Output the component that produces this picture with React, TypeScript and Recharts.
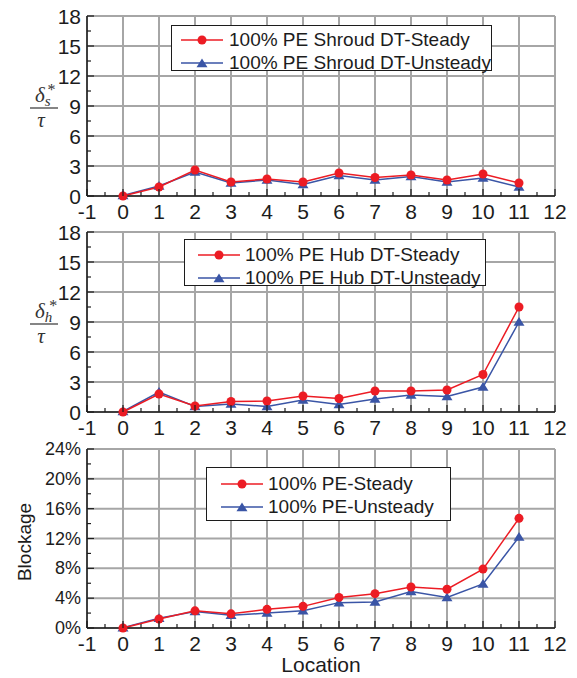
import React from 'react';
import { LineChart, Line, XAxis, YAxis, ReferenceLine, Legend } from 'recharts';

// measurement locations along the passage
const locations = [0, 1, 2, 3, 4, 5, 6, 7, 8, 9, 10, 11];

// shroud displacement thickness / tau
const shroudSteady = [0, 0.9, 2.6, 1.4, 1.7, 1.4, 2.3, 1.85, 2.1, 1.6, 2.2, 1.3];
const shroudUnsteady = [0.05, 1.0, 2.4, 1.3, 1.6, 1.15, 2.05, 1.6, 1.95, 1.4, 1.8, 0.9];

// hub displacement thickness / tau
const hubSteady = [0, 1.8, 0.6, 1.05, 1.1, 1.6, 1.35, 2.1, 2.1, 2.2, 3.75, 10.5];
const hubUnsteady = [0.05, 2.0, 0.55, 0.8, 0.55, 1.2, 0.75, 1.3, 1.7, 1.55, 2.5, 9.0];

// blockage, percent
const blockageSteady = [0, 1.2, 2.3, 1.9, 2.5, 2.9, 4.1, 4.6, 5.5, 5.2, 7.9, 14.7];
const blockageUnsteady = [0.05, 1.3, 2.2, 1.7, 2.0, 2.3, 3.4, 3.5, 4.9, 4.1, 5.9, 12.2];

const xTicks = [-1, 0, 1, 2, 3, 4, 5, 6, 7, 8, 9, 10, 11, 12];
const xMinorTicks = [
  -1, -0.5, 0, 0.5, 1, 1.5, 2, 2.5, 3, 3.5, 4, 4.5, 5, 5.5, 6, 6.5,
  7, 7.5, 8, 8.5, 9, 9.5, 10, 10.5, 11, 11.5, 12,
];
const deltaTicks = [0, 3, 6, 9, 12, 15, 18];
const deltaMinorTicks = [0, 1.5, 3, 4.5, 6, 7.5, 9, 10.5, 12, 13.5, 15, 16.5, 18];
const blockageTicks = [0, 4, 8, 12, 16, 20, 24];
const blockageMinorTicks = [0, 2, 4, 6, 8, 10, 12, 14, 16, 18, 20, 22, 24];

const shroudLabels = ['100% PE Shroud DT-Steady', '100% PE Shroud DT-Unsteady'];
const hubLabels = ['100% PE Hub DT-Steady', '100% PE Hub DT-Unsteady'];
const blockageLabels = ['100% PE-Steady', '100% PE-Unsteady'];

const RED = '#ec1c24';
const BLUE = '#3a55a6';
const INK = '#1c1c1c';
const GRID = '#a6a6a6';
const SANS = '"Liberation Sans", Arial, Helvetica, sans-serif';
const SERIF = '"Liberation Serif", "Times New Roman", serif';

const makeRows = (a: number[], b: number[]) =>
  locations.map((loc, i) => ({ loc, steady: a[i], unsteady: b[i] }));

const isMajor = (v: number, step: number) => Math.abs(v / step - Math.round(v / step)) < 1e-6;

const triangle = (cx: number, cy: number, s: number) =>
  `M${cx},${cy - s} L${cx + s * 1.1},${cy + s * 0.75} L${cx - s * 1.1},${cy + s * 0.75} Z`;

const bottomTick = (props: any) => {
  const { x, y, payload } = props;
  const v = payload.value;
  const major = isMajor(v, 1);
  return (
    <g>
      <line x1={x} x2={x} y1={y} y2={y - (major ? 7 : 4)} stroke={INK} strokeWidth={1.2} />
      {major && (
        <text x={x} y={y + 15} textAnchor="middle" dominantBaseline="central"
          fontSize={21} fontFamily={SANS} fill={INK}>
          {v}
        </text>
      )}
    </g>
  );
};

const topTick = (props: any) => {
  const { x, y, payload } = props;
  const major = isMajor(payload.value, 1);
  return <line x1={x} x2={x} y1={y} y2={y + (major ? 7 : 4)} stroke={INK} strokeWidth={1.2} />;
};

const leftTick = (step: number, fmt: (v: number) => string, fontSize: number) => (props: any) => {
  const { x, y, payload } = props;
  const v = payload.value;
  const major = isMajor(v, step);
  return (
    <g>
      <line x1={x} x2={x + (major ? 7 : 4)} y1={y} y2={y} stroke={INK} strokeWidth={1.2} />
      {major && (
        <text x={x - 6} y={y} textAnchor="end" dominantBaseline="central"
          fontSize={fontSize} fontFamily={SANS} fill={INK}>
          {fmt(v)}
        </text>
      )}
    </g>
  );
};

const rightTick = (step: number) => (props: any) => {
  const { x, y, payload } = props;
  const major = isMajor(payload.value, step);
  return <line x1={x} x2={x - (major ? 7 : 4)} y1={y} y2={y} stroke={INK} strokeWidth={1.2} />;
};

// delta*/tau fraction used as the y title of the two upper panels
const fractionLabel = (sub: string) => (props: any) => {
  const top = props.viewBox?.y ?? 16;
  return (
    <g fontFamily={SERIF} fontStyle="italic" fill="#333">
      <text x={35} y={top + 86} fontSize={21}>
        δ
        <tspan fontSize={15} dy={4}>{sub}</tspan>
        <tspan fontSize={16} fontStyle="normal" dx={-3} dy={-11}>*</tspan>
      </text>
      <line x1={30} x2={58} y1={top + 92} y2={top + 92} stroke="#333" strokeWidth={1.2} />
      <text x={41} y={top + 111} fontSize={21} textAnchor="middle">τ</text>
    </g>
  );
};

const blockageLabel = (props: any) => {
  const top = props.viewBox?.y ?? 17;
  return (
    <text x={24} y={top + 93} transform={`rotate(-90, 24, ${top + 93})`} textAnchor="middle"
      dominantBaseline="central" fontSize={19} fontFamily={SANS} fill={INK}>
      Blockage
    </text>
  );
};

type Box = { left: number; top: number; width: number; height: number; rowTop: number; lineLeft: number; textLeft: number };

const LegendBox = ({ box, labels }: { box: Box; labels: string[] }) => (
  <div
    style={{
      position: 'relative', width: box.width, height: box.height, boxSizing: 'border-box',
      border: `1.2px solid ${INK}`, background: '#fff', fontFamily: SANS, fontSize: 19, color: INK,
    }}
  >
    {labels.map((label, i) => {
      const cy = box.rowTop + i * 23;
      const color = i === 0 ? RED : BLUE;
      return (
        <div key={label}>
          <svg width={44} height={14} style={{ position: 'absolute', left: box.lineLeft, top: cy - 7 }}>
            <line x1={0} x2={42} y1={7} y2={7} stroke={color} strokeWidth={1.5} />
            {i === 0 ? <circle cx={21} cy={7} r={4.5} fill={RED} /> : <path d={triangle(21, 7.5, 5)} fill={BLUE} />}
          </svg>
          <span style={{ position: 'absolute', left: box.textLeft, top: cy - 11, lineHeight: '22px', whiteSpace: 'nowrap' }}>
            {label}
          </span>
        </div>
      );
    })}
  </div>
);

type PanelProps = {
  top: number;
  height: number;
  marginTop: number;
  plotHeight: number;
  rows: { loc: number; steady: number; unsteady: number }[];
  yTicks: number[];
  yMinor: number[];
  yStep: number;
  yFmt: (v: number) => string;
  yFont: number;
  yLabel: (p: any) => React.ReactElement;
  labels: string[];
  box: Box;
  xTitle?: string;
};

const Panel = (p: PanelProps) => {
  const yMax = p.yTicks[p.yTicks.length - 1];
  const xAxisHeight = p.height - p.marginTop - p.plotHeight;
  return (
    <div style={{ position: 'absolute', left: 0, top: p.top }}>
      <LineChart width={577} height={p.height} data={p.rows}
        margin={{ top: p.marginTop, right: 22, bottom: 0, left: 0 }}>
        {xTicks.map((v) => (
          <ReferenceLine key={`gx${v}`} x={v} stroke={GRID} strokeWidth={2} />
        ))}
        {p.yTicks.map((v) => (
          <ReferenceLine key={`gy${v}`} y={v} stroke={GRID} strokeWidth={2} />
        ))}
        <XAxis dataKey="loc" type="number" domain={[-1, 12]} ticks={xMinorTicks} interval={0}
          height={xAxisHeight} tickSize={0} tickMargin={0} tickLine={false}
          axisLine={{ stroke: INK, strokeWidth: 1.5 }} tick={bottomTick}
          label={p.xTitle ? {
            content: (lp: any) => (
              <text x={321} y={(lp.viewBox?.y ?? 628) + 36} textAnchor="middle" dominantBaseline="central"
                fontSize={21} fontFamily={SANS} fill={INK}>{p.xTitle}</text>
            ),
          } : undefined}
        />
        <XAxis xAxisId="top" orientation="top" type="number" domain={[-1, 12]} ticks={xMinorTicks} interval={0}
          height={0} tickSize={0} tickMargin={0} tickLine={false}
          axisLine={{ stroke: INK, strokeWidth: 1.5 }} tick={topTick} />
        <YAxis type="number" domain={[0, yMax]} ticks={p.yMinor} interval={0} width={87}
          tickSize={0} tickMargin={0} tickLine={false} axisLine={{ stroke: INK, strokeWidth: 1.5 }}
          tick={leftTick(p.yStep, p.yFmt, p.yFont)} label={{ content: p.yLabel }} />
        <YAxis yAxisId="right" orientation="right" type="number" domain={[0, yMax]} ticks={p.yMinor} interval={0}
          width={0} tickSize={0} tickMargin={0} tickLine={false}
          axisLine={{ stroke: INK, strokeWidth: 1.5 }} tick={rightTick(p.yStep)} />
        <Legend layout="vertical" align="center" verticalAlign="middle"
          wrapperStyle={{ position: 'absolute', left: p.box.left, top: p.box.top, width: p.box.width, height: p.box.height }}
          content={() => <LegendBox box={p.box} labels={p.labels} />} />
        <Line type="linear" dataKey="unsteady" stroke={BLUE} strokeWidth={1.5} isAnimationActive={false}
          dot={(d: any) => <path key={`u${d.index}`} d={triangle(d.cx, d.cy, 5)} fill={BLUE} />} />
        <Line type="linear" dataKey="steady" stroke={RED} strokeWidth={1.5} isAnimationActive={false}
          dot={(d: any) => <circle key={`s${d.index}`} cx={d.cx} cy={d.cy} r={4.5} fill={RED} />} />
      </LineChart>
    </div>
  );
};

export default function App() {
  const plain = (v: number) => String(v);
  const pct = (v: number) => `${v}%`;
  return (
    <div style={{ position: 'absolute', left: 0, top: 0, width: 577, height: 678, background: '#fff', overflow: 'hidden' }}>
      <Panel top={0} height={225} marginTop={16} plotHeight={180} rows={makeRows(shroudSteady, shroudUnsteady)}
        yTicks={deltaTicks} yMinor={deltaMinorTicks} yStep={3} yFmt={plain} yFont={21}
        yLabel={fractionLabel('s')} labels={shroudLabels}
        box={{ left: 171, top: 25, width: 321, height: 46, rowTop: 14, lineLeft: 9, textLeft: 57 }} />
      <Panel top={216} height={225} marginTop={16} plotHeight={180} rows={makeRows(hubSteady, hubUnsteady)}
        yTicks={deltaTicks} yMinor={deltaMinorTicks} yStep={3} yFmt={plain} yFont={21}
        yLabel={fractionLabel('h')} labels={hubLabels}
        box={{ left: 184, top: 23, width: 302, height: 47, rowTop: 15, lineLeft: 13, textLeft: 60 }} />
      <Panel top={432} height={246} marginTop={17} plotHeight={179} rows={makeRows(blockageSteady, blockageUnsteady)}
        yTicks={blockageTicks} yMinor={blockageMinorTicks} yStep={4} yFmt={pct} yFont={18}
        yLabel={blockageLabel} labels={blockageLabels} xTitle="Location"
        box={{ left: 206, top: 35, width: 245, height: 54, rowTop: 16, lineLeft: 14, textLeft: 61 }} />
    </div>
  );
}
